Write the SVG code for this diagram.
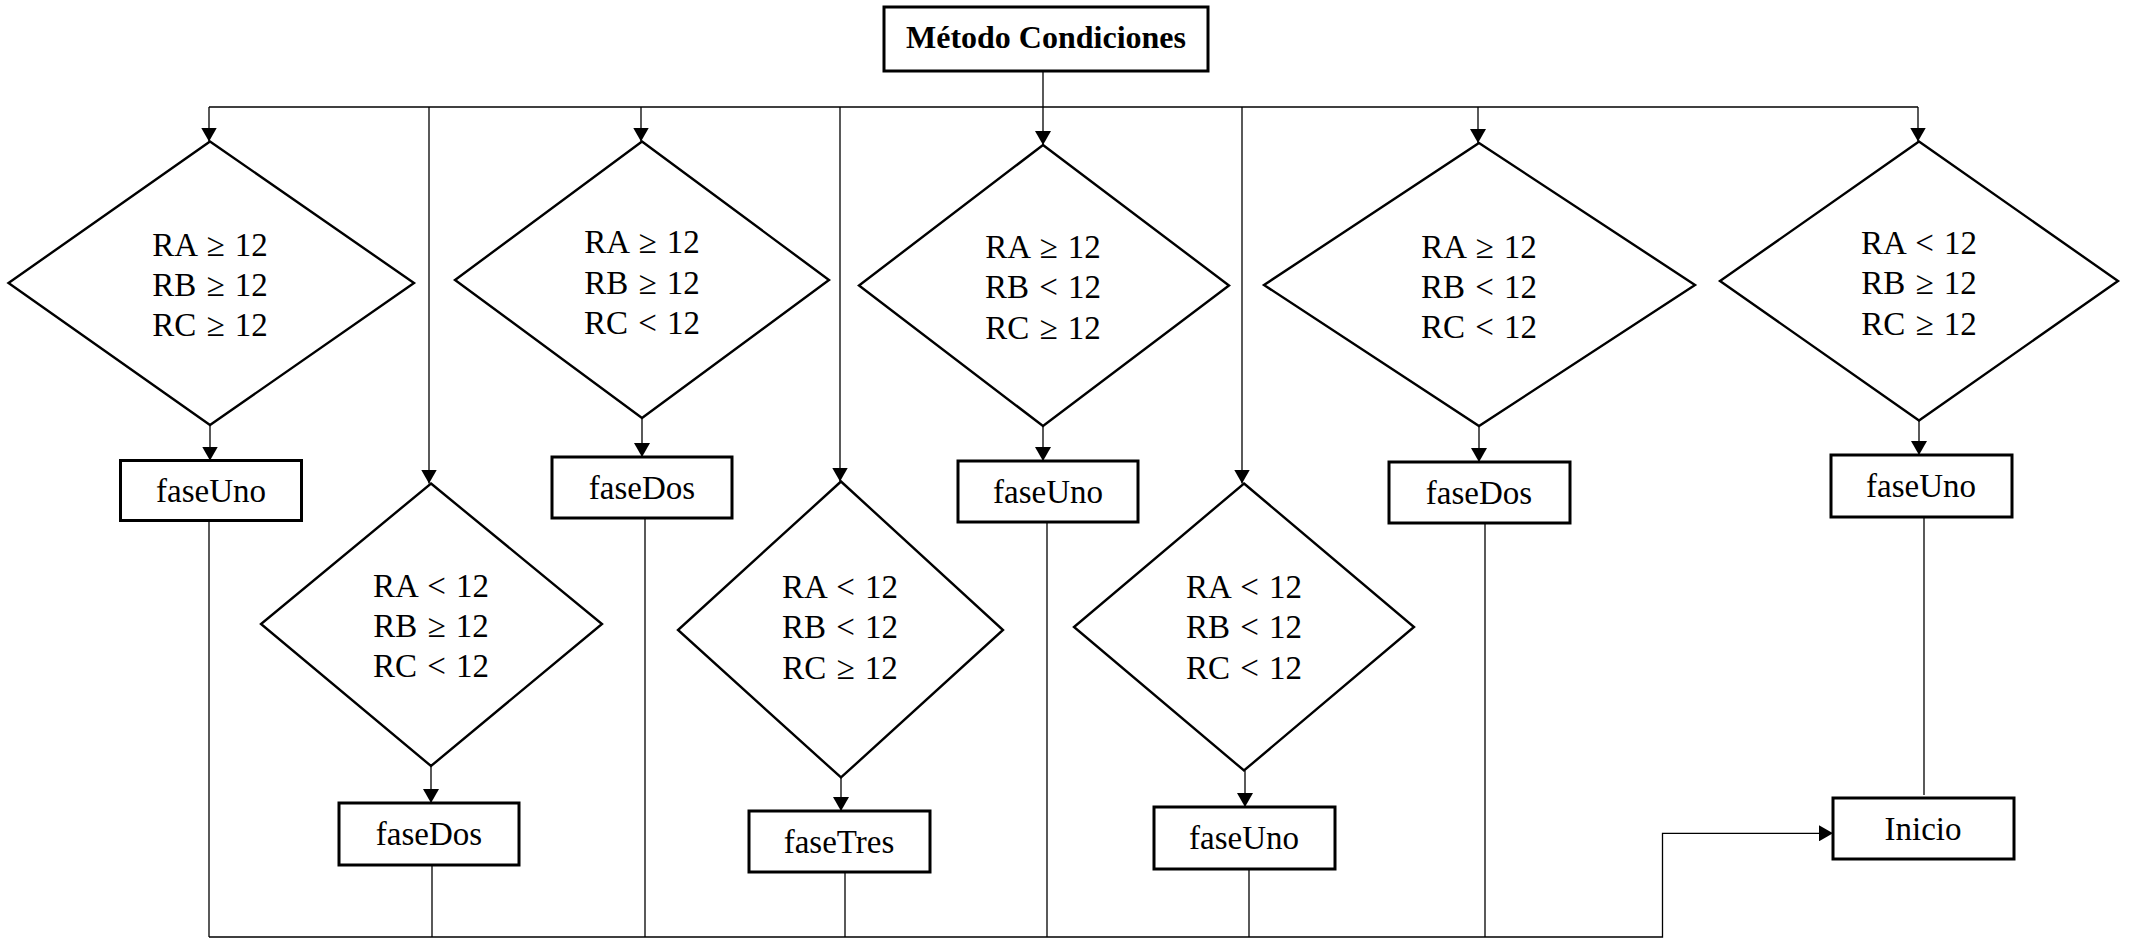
<svg xmlns="http://www.w3.org/2000/svg" width="2134" height="939" viewBox="0 0 2134 939">
  <style>
    .box { fill: #ffffff; stroke: #000000; stroke-width: 3; }
    .dec { fill: #ffffff; stroke: #000000; stroke-width: 2.4; stroke-linejoin: miter; }
    .wire { fill: none; stroke: #000000; stroke-width: 1.3; }
    .lbl { font-family: "Liberation Serif", "Times New Roman", serif; font-size: 33px; fill: #000000; text-anchor: middle; }
    .cnd { word-spacing: 2px; }
    .title { font-size: 32px; font-weight: bold; }
  </style>
  <defs>
    <marker id="arrow" viewBox="0 0 14 16" refX="14" refY="8" markerWidth="14" markerHeight="16" markerUnits="userSpaceOnUse" orient="auto">
      <path d="M0,0 L14,8 L0,16 z" fill="#000000"/>
    </marker>
  </defs>

  <rect width="2134" height="939" fill="#ffffff"/>

  <!-- connectors -->
  <g id="connectors">
    <path class="wire" d="M1043,71 V107"/>
    <path class="wire" d="M209,107 H1918"/>
    <!-- branches into each decision -->
    <path class="wire" d="M209,107 V141.5" marker-end="url(#arrow)"/>
    <path class="wire" d="M429,107 V483.5" marker-end="url(#arrow)"/>
    <path class="wire" d="M641,107 V141.5" marker-end="url(#arrow)"/>
    <path class="wire" d="M840,107 V481.5" marker-end="url(#arrow)"/>
    <path class="wire" d="M1043,107 V145" marker-end="url(#arrow)"/>
    <path class="wire" d="M1242,107 V483.5" marker-end="url(#arrow)"/>
    <path class="wire" d="M1478,107 V143" marker-end="url(#arrow)"/>
    <path class="wire" d="M1918,107 V141.5" marker-end="url(#arrow)"/>
    <!-- decision to phase -->
    <path class="wire" d="M210,425 V460.5" marker-end="url(#arrow)"/>
    <path class="wire" d="M642,418 V457" marker-end="url(#arrow)"/>
    <path class="wire" d="M1043,426 V461" marker-end="url(#arrow)"/>
    <path class="wire" d="M1479,426 V462" marker-end="url(#arrow)"/>
    <path class="wire" d="M1919,420.5 V455" marker-end="url(#arrow)"/>
    <path class="wire" d="M431,766 V803" marker-end="url(#arrow)"/>
    <path class="wire" d="M841,777.5 V811" marker-end="url(#arrow)"/>
    <path class="wire" d="M1245,770.5 V807" marker-end="url(#arrow)"/>
    <!-- phases to collector line -->
    <path class="wire" d="M209,521 V937"/>
    <path class="wire" d="M432,865 V937"/>
    <path class="wire" d="M645,518 V937"/>
    <path class="wire" d="M845,872 V937"/>
    <path class="wire" d="M1047,522 V937"/>
    <path class="wire" d="M1249,869 V937"/>
    <path class="wire" d="M1485,523 V937"/>
    <path class="wire" d="M209,937 H1662.5 V833.3 H1833" marker-end="url(#arrow)"/>
    <path class="wire" d="M1924,517 V795"/>
  </g>

  <g id="metodo">
    <rect class="box" x="884" y="7" width="324" height="64"/>
    <text class="lbl title" x="1046" y="48">Método Condiciones</text>
  </g>

  <g id="cond1">
    <polygon class="dec" points="210,141.5 414,283 210,425 8.5,283"/>
    <text class="lbl cnd" x="210" y="256">RA ≥ 12</text>
    <text class="lbl cnd" x="210" y="296">RB ≥ 12</text>
    <text class="lbl cnd" x="210" y="336">RC ≥ 12</text>
  </g>
  <g id="cond2">
    <polygon class="dec" points="642,141.5 829,280 642,418 455,280"/>
    <text class="lbl cnd" x="642" y="253">RA ≥ 12</text>
    <text class="lbl cnd" x="642" y="294">RB ≥ 12</text>
    <text class="lbl cnd" x="642" y="334">RC &lt; 12</text>
  </g>
  <g id="cond3">
    <polygon class="dec" points="1043,145 1229,285.5 1043,426 859,285.5"/>
    <text class="lbl cnd" x="1043" y="258">RA ≥ 12</text>
    <text class="lbl cnd" x="1043" y="298">RB &lt; 12</text>
    <text class="lbl cnd" x="1043" y="339">RC ≥ 12</text>
  </g>
  <g id="cond4">
    <polygon class="dec" points="1479,143 1695,285 1479,426 1264,285"/>
    <text class="lbl cnd" x="1479" y="258">RA ≥ 12</text>
    <text class="lbl cnd" x="1479" y="298">RB &lt; 12</text>
    <text class="lbl cnd" x="1479" y="338">RC &lt; 12</text>
  </g>
  <g id="cond5">
    <polygon class="dec" points="1919,141.5 2118,281 1919,420.5 1720,281"/>
    <text class="lbl cnd" x="1919" y="254">RA &lt; 12</text>
    <text class="lbl cnd" x="1919" y="294">RB ≥ 12</text>
    <text class="lbl cnd" x="1919" y="335">RC ≥ 12</text>
  </g>
  <g id="cond6">
    <polygon class="dec" points="431,483.5 602,624 431,766 261,624"/>
    <text class="lbl cnd" x="431" y="597">RA &lt; 12</text>
    <text class="lbl cnd" x="431" y="637">RB ≥ 12</text>
    <text class="lbl cnd" x="431" y="677">RC &lt; 12</text>
  </g>
  <g id="cond7">
    <polygon class="dec" points="841,481.5 1003,630 841,777.5 678,630"/>
    <text class="lbl cnd" x="840" y="598">RA &lt; 12</text>
    <text class="lbl cnd" x="840" y="638">RB &lt; 12</text>
    <text class="lbl cnd" x="840" y="679">RC ≥ 12</text>
  </g>
  <g id="cond8">
    <polygon class="dec" points="1244,483.5 1414,627 1244,770.5 1074,627"/>
    <text class="lbl cnd" x="1244" y="598">RA &lt; 12</text>
    <text class="lbl cnd" x="1244" y="638">RB &lt; 12</text>
    <text class="lbl cnd" x="1244" y="679">RC &lt; 12</text>
  </g>

  <g id="fase1">
    <rect class="box" x="120.5" y="460.5" width="181" height="60"/>
    <text class="lbl" x="211" y="502">faseUno</text>
  </g>
  <g id="fase2">
    <rect class="box" x="552" y="457" width="180" height="61"/>
    <text class="lbl" x="642" y="499">faseDos</text>
  </g>
  <g id="fase3">
    <rect class="box" x="958" y="461" width="180" height="61"/>
    <text class="lbl" x="1048" y="503">faseUno</text>
  </g>
  <g id="fase4">
    <rect class="box" x="1389" y="462" width="181" height="61"/>
    <text class="lbl" x="1479" y="504">faseDos</text>
  </g>
  <g id="fase5">
    <rect class="box" x="1831" y="455" width="181" height="62"/>
    <text class="lbl" x="1921" y="497">faseUno</text>
  </g>
  <g id="fase6">
    <rect class="box" x="339" y="803" width="180" height="62"/>
    <text class="lbl" x="429" y="845">faseDos</text>
  </g>
  <g id="fase7">
    <rect class="box" x="749" y="811" width="181" height="61"/>
    <text class="lbl" x="839" y="853">faseTres</text>
  </g>
  <g id="fase8">
    <rect class="box" x="1154" y="807" width="181" height="62"/>
    <text class="lbl" x="1244" y="849">faseUno</text>
  </g>
  <g id="inicio">
    <rect class="box" x="1833" y="798" width="181" height="61"/>
    <text class="lbl" x="1923" y="840">Inicio</text>
  </g>
</svg>
